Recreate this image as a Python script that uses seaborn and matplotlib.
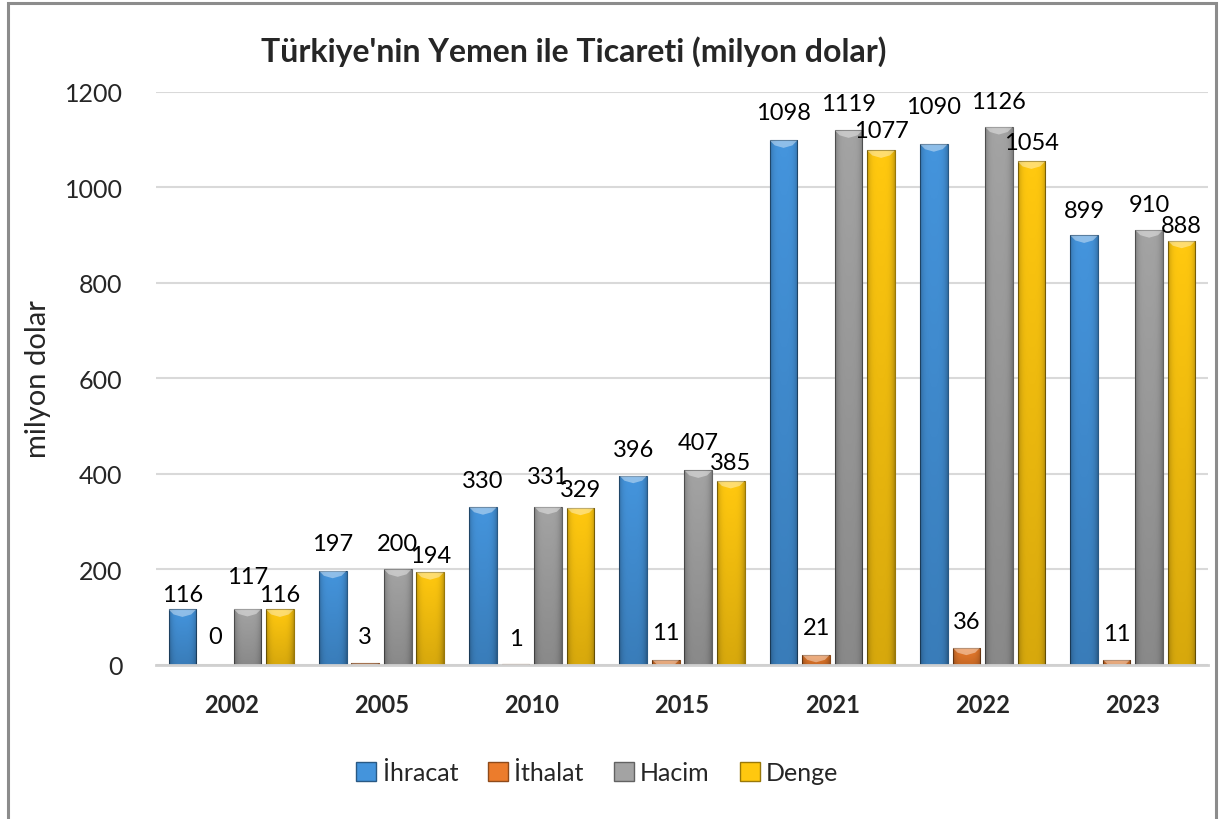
import numpy as np
import pandas as pd
import seaborn as sns
import matplotlib.pyplot as plt
import matplotlib.colors as mcolors
from matplotlib.patches import Rectangle, Polygon

###################
# Data
years = ["2002", "2005", "2010", "2015", "2021", "2022", "2023"]
ihracat = [116, 197, 330, 396, 1098, 1090, 899]
ithalat = [0, 3, 1, 11, 21, 36, 11]
hacim = [117, 200, 331, 407, 1119, 1126, 910]
denge = [116, 194, 329, 385, 1077, 1054, 888]
series = ["İhracat", "İthalat", "Hacim", "Denge"]

# label offsets above bar top (pixels), as placed in the original
label_offsets = [
    [15, 27, 27, 26, 28, 38, 25],
    [28, 27, 26, 27, 27, 26, 26],
    [32, 26, 30, 28, 27, 26, 26],
    [15, 17, 18, 18, 20, 19, 15],
]

###################
# Setup
colors = ["#4494dc", "#ec7c2c", "#a3a3a3", "#ffc80f"]

sns.set_theme(style="white")
plt.rcParams["font.family"] = ["Lato", "DejaVu Sans"]

df = pd.DataFrame({"Yıl": years, "İhracat": ihracat, "İthalat": ithalat,
                   "Hacim": hacim, "Denge": denge})
df = pd.melt(df, ["Yıl"], var_name="Seri", value_name="Değer")

fig = plt.figure(figsize=(12.19, 8.2), dpi=100)
ax = fig.add_axes([0.128, 0.188, 0.863, 0.699])

sns.barplot(df, ax=ax, x="Yıl", y="Değer", hue="Seri", hue_order=series,
            palette=colors, saturation=1, width=0.865, gap=0.15)

ax.set_ylim(0, 1200)
ax.set_yticks(range(0, 1201, 200))
ax.set_xlim(-0.5, len(years) - 0.5)
ax.yaxis.grid(True, color="#d9d9d9", linewidth=1.5)
ax.set_axisbelow(True)
sns.despine(ax=ax, left=True, top=True, right=True)
ax.spines["bottom"].set_color("#d0d0d0")
ax.spines["bottom"].set_linewidth(2)
ax.tick_params(axis="y", length=0, pad=24, labelsize=18)
ax.tick_params(axis="x", length=0, pad=20, labelsize=17)
for lbl in ax.get_xticklabels():
    lbl.set_fontweight("bold")
ax.set_xlabel("")
ax.set_ylabel("milyon dolar", fontsize=21, labelpad=10)

###################
# Bar shading (bevel look)
units_per_px = 1200 / (0.699 * 820)
shade = np.zeros((60, 24, 4))
vert = np.linspace(0.0, 0.16, 60)[:, None]
horiz = (np.abs(np.linspace(-1, 1, 24)) ** 4)[None, :] * 0.2
shade[..., 3] = np.clip(vert + horiz, 0, 1)

for i, cont in enumerate(ax.containers):
    for j, bar in enumerate(cont):
        x, w, h = bar.get_x(), bar.get_width(), bar.get_height()
        fc = bar.get_facecolor()
        bar.set_edgecolor(tuple(np.array(mcolors.to_rgb(fc)) * 0.6))
        bar.set_linewidth(0.8)
        if h > 0:
            im = ax.imshow(shade, extent=[x, x + w, 0, h], aspect="auto",
                           zorder=bar.get_zorder() + 0.1, interpolation="bilinear")
            im.set_clip_path(bar)
            d = 5 * units_per_px
            cap = Polygon([(x, h), (x + w, h), (x + w * 0.82, h - d),
                           (x + w / 2, h - d * 1.5), (x + w * 0.18, h - d)],
                          closed=True, facecolor="white", alpha=0.4,
                          edgecolor="none", zorder=bar.get_zorder() + 0.2)
            ax.add_patch(cap)
            cap.set_clip_path(bar)
        ax.annotate(f"{[ihracat, ithalat, hacim, denge][i][j]}",
                    (x + w / 2, h), xytext=(0, label_offsets[i][j]),
                    textcoords="offset pixels", ha="center", va="center",
                    fontsize=17, color="black", zorder=5)

ax.set_xlim(-0.5, len(years) - 0.5)
ax.set_ylim(0, 1200)

###################
# Legend, title, frame
sns.move_legend(ax, "center", bbox_to_anchor=(0.49, 0.057),
                bbox_transform=fig.transFigure, ncol=4, frameon=False,
                title=None, fontsize=18, handlelength=0.8, handleheight=0.8,
                handletextpad=0.25, columnspacing=1.2)
for patch, c in zip(ax.get_legend().get_patches(), colors):
    patch.set_edgecolor(tuple(np.array(mcolors.to_rgb(c)) * 0.6))

fig.text(0.471, 0.937, "Türkiye'nin Yemen ile Ticareti (milyon dolar)",
         ha="center", va="center", fontsize=23, fontweight="bold")

fig.add_artist(Rectangle((8 / 1219, -0.02), 1208 / 1219, 1.02 - 4 / 820,
                         transform=fig.transFigure, fill=False,
                         edgecolor="#8c8c8c", linewidth=2.2))

###################
# Export
fig.savefig("out.png", dpi=100)
